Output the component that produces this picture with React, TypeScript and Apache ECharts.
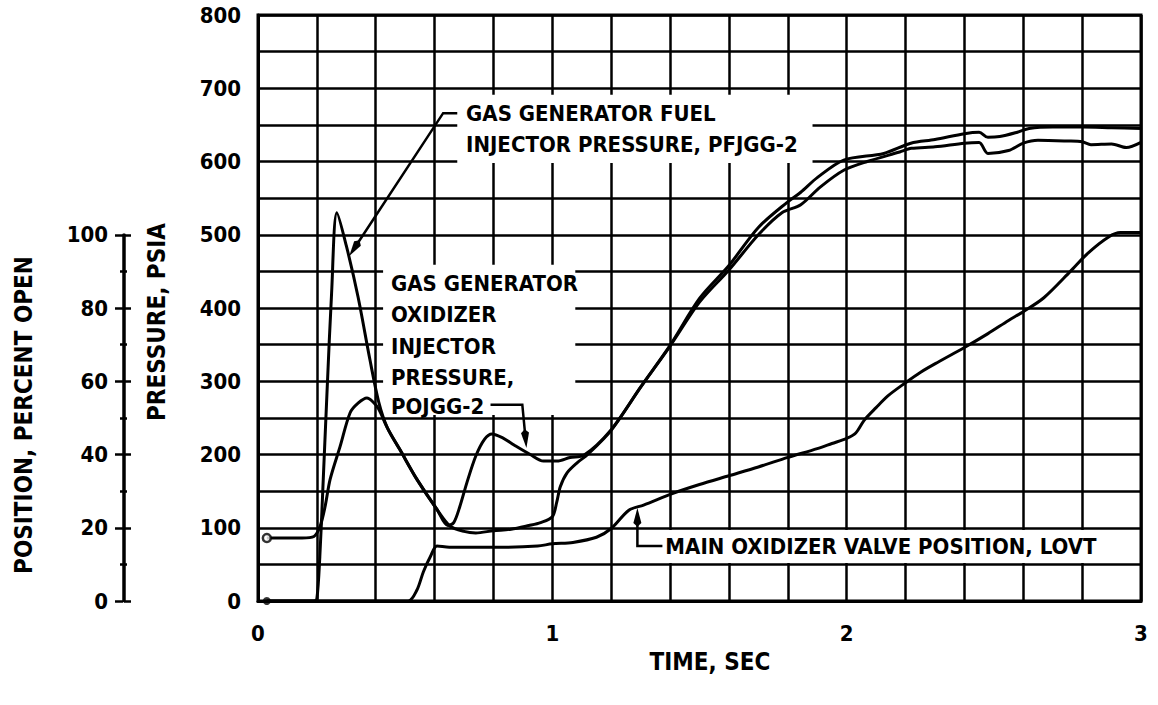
import React, { useEffect, useRef } from "react";
import * as echarts from "echarts";

const FONT = "'DejaVu Sans Condensed', 'DejaVu Sans', sans-serif";

// Gas generator fuel injector pressure, PFJGG-2 (psia)
const fuelTime = [0.03, 0.19, 0.2, 0.21, 0.22, 0.235, 0.25, 0.268, 0.3, 0.34, 0.38, 0.41, 0.44, 0.483, 0.54, 0.608, 0.653, 0.7, 0.74, 0.8, 0.86, 0.92, 0.96, 1.0, 1.015, 1.027, 1.05, 1.085, 1.12, 1.2, 1.3, 1.4, 1.5, 1.6, 1.7, 1.78, 1.844, 1.91, 1.99, 2.07, 2.18, 2.22, 2.3, 2.4, 2.45, 2.48, 2.55, 2.6, 2.65, 2.75, 2.8, 2.83, 2.9, 2.95, 3.0];
const fuelPressure = [0, 0, 3, 60, 150, 290, 420, 530, 485, 415, 330, 272, 236, 206, 166, 125, 102, 95, 93, 96, 98, 103, 107, 115, 135, 156, 175, 189, 200, 233, 292, 348, 408, 452, 500, 530, 541, 565, 588, 600, 613, 618, 620, 625, 626, 611, 615, 625, 629, 628, 627, 623, 624, 619, 626];

// Gas generator oxidizer injector pressure, POJGG-2 (psia)
const oxTime = [0.03, 0.15, 0.19, 0.211, 0.228, 0.245, 0.279, 0.313, 0.34, 0.37, 0.39, 0.41, 0.44, 0.483, 0.54, 0.608, 0.645, 0.665, 0.685, 0.71, 0.74, 0.77, 0.795, 0.83, 0.87, 0.925, 0.97, 1.016, 1.06, 1.107, 1.2, 1.3, 1.4, 1.5, 1.6, 1.7, 1.8, 1.844, 1.9, 1.99, 2.126, 2.218, 2.3, 2.4, 2.45, 2.48, 2.52, 2.58, 2.62, 2.7, 2.8, 2.9, 3.0];
const oxPressure = [86, 86, 88, 102, 129, 166, 211, 257, 270, 277, 272, 262, 236, 206, 166, 125, 103, 107, 128, 162, 198, 221, 228, 223, 213, 200, 191, 191, 196, 199, 234, 292, 349, 413, 458, 510, 545, 558, 578, 602, 611, 625, 630, 638, 640, 633, 634, 640, 645, 647, 647, 646, 645];

// Main oxidizer valve position, LOVT (percent open)
const valveTime = [0.03, 0.51, 0.54, 0.562, 0.585, 0.608, 0.65, 0.75, 0.85, 0.95, 1.0, 1.07, 1.15, 1.2, 1.26, 1.31, 1.41, 1.5, 1.6, 1.7, 1.8, 1.9, 1.95, 2.0, 2.03, 2.06, 2.1, 2.14, 2.2, 2.25, 2.31, 2.4, 2.48, 2.55, 2.6, 2.67, 2.76, 2.82, 2.89, 2.93, 3.0];
const valvePercent = [0, 0, 3, 8, 12, 15, 14.7, 14.7, 14.7, 15, 15.6, 16, 17.4, 19.8, 24.8, 26.2, 29.4, 31.8, 34.2, 36.6, 39.2, 41.6, 43, 44.4, 45.8, 49.4, 52.8, 56, 59.6, 62.4, 65.2, 69.2, 73, 76.6, 79, 82.8, 90, 95, 99.4, 100.6, 100.6];

// Axis ranges / ticks
const timeRange = [0, 3];
const pressureRange = [0, 800];
const positionRange = [0, 100];

// Annotation texts
const fuelLabelLines = ["GAS GENERATOR FUEL", "INJECTOR PRESSURE, PFJGG-2"];
const oxLabelLines = ["GAS GENERATOR", "OXIDIZER", "INJECTOR", "PRESSURE,", "POJGG-2"];
const valveLabel = "MAIN OXIDIZER VALVE POSITION, LOVT";

// Annotation anchors in data coordinates (time, psia)
const fuelBox = [0.677, 691, 1.884, 598];
const fuelTextAt = [0.707, [666, 623]];
const fuelLeader = [[0.677, 666], [0.629, 666], [0.31, 471]];
const oxBox = [0.425, 459, 1.078, 254];
const oxTextAt = [0.452, [434, 391, 347, 305, 265]];
const oxLeader = [[0.79, 268], [0.898, 268], [0.912, 209]];
const valveBox = [1.35, 97, 2.9, 52];
const valveTextAt = [1.384, 75];
const valveLeader = [[1.374, 75], [1.289, 75], [1.289, 127]];

export default function App() {
  const ref = useRef<HTMLDivElement>(null);
  useEffect(() => {
    document.body.style.margin = "0";
    const chart = echarts.init(ref.current!, null, { renderer: "svg" });
    const black = "#000";
    const tickFont = { color: black, fontFamily: FONT, fontWeight: "bold" as const, fontSize: 22 };
    const curve = { symbol: "none", smooth: 0.3, lineStyle: { color: black, width: 3 }, z: 3 };
    chart.setOption({
      animation: false,
      backgroundColor: "#fff",
      grid: [
        { left: 258, right: 17, top: 15, bottom: 104, show: true, borderColor: black, borderWidth: 3, backgroundColor: "#fff" },
        { left: 123, width: 1, top: 234.75, bottom: 104 },
      ],
      xAxis: [
        {
          type: "value", gridIndex: 0, min: timeRange[0], max: timeRange[1], interval: 1,
          axisLine: { show: true, onZero: false, lineStyle: { color: black, width: 3 } },
          axisTick: { show: false },
          axisLabel: { ...tickFont, margin: 21 },
          splitLine: { show: true, lineStyle: { color: black, width: 2.5 } },
          minorTick: { show: false, splitNumber: 5 },
          minorSplitLine: { show: true, lineStyle: { color: black, width: 2.5 } },
        },
        { type: "value", gridIndex: 1, min: 0, max: 1, show: false },
      ],
      yAxis: [
        {
          type: "value", gridIndex: 0, min: pressureRange[0], max: pressureRange[1], interval: 100,
          axisLine: { show: true, lineStyle: { color: black, width: 3 } },
          axisTick: { show: false },
          axisLabel: { ...tickFont, margin: 17 },
          splitLine: { show: true, lineStyle: { color: black, width: 2.5 } },
          minorTick: { show: false, splitNumber: 2 },
          minorSplitLine: { show: true, lineStyle: { color: black, width: 2.5 } },
        },
        { type: "value", gridIndex: 0, min: 0, max: 160, show: false },
        {
          type: "value", gridIndex: 1, position: "left", min: positionRange[0], max: positionRange[1], interval: 20,
          axisLine: { show: true, lineStyle: { color: black, width: 2.5 } },
          axisTick: { show: true, length: 8, lineStyle: { color: black, width: 2.5 } },
          minorTick: { show: true, splitNumber: 2, length: 3, lineStyle: { color: black, width: 2.5 } },
          axisLabel: { ...tickFont, margin: 15 },
          splitLine: { show: false },
        },
        {
          type: "value", gridIndex: 1, position: "right", min: positionRange[0], max: positionRange[1], interval: 20,
          axisLine: { show: true, lineStyle: { color: black, width: 2.5 } },
          axisTick: { show: true, length: 7, lineStyle: { color: black, width: 2.5 } },
          minorTick: { show: true, splitNumber: 2, length: 3, lineStyle: { color: black, width: 2.5 } },
          axisLabel: { show: false },
          splitLine: { show: false },
        },
      ],
      series: [
        { type: "line", name: "PFJGG-2", xAxisIndex: 0, yAxisIndex: 0, data: fuelTime.map((t, i) => [t, fuelPressure[i]]), ...curve },
        { type: "line", name: "POJGG-2", xAxisIndex: 0, yAxisIndex: 0, data: oxTime.map((t, i) => [t, oxPressure[i]]), ...curve },
        { type: "line", name: "LOVT", xAxisIndex: 0, yAxisIndex: 1, data: valveTime.map((t, i) => [t, valvePercent[i]]), ...curve },
        {
          type: "scatter", xAxisIndex: 0, yAxisIndex: 0, z: 4, symbolSize: 8,
          data: [
            { value: [oxTime[0], oxPressure[0]], itemStyle: { color: "#fff", borderColor: black, borderWidth: 2.5 } },
            { value: [fuelTime[0], fuelPressure[0]], itemStyle: { color: black } },
          ],
        },
      ],
    });

    const px = (t: number, p: number) => chart.convertToPixel({ xAxisIndex: 0, yAxisIndex: 0 }, [t, p]) as number[];
    const annFont = `bold 22px ${FONT}`;
    const titleFont = `bold 24px ${FONT}`;
    const box = (b: number[]) => {
      const a = px(b[0], b[1]);
      const c = px(b[2], b[3]);
      return { type: "rect", z: 1, shape: { x: a[0], y: a[1], width: c[0] - a[0], height: c[1] - a[1] }, style: { fill: "#fff" } };
    };
    const text = (s: string, x: number, y: number, font = annFont) => ({
      type: "text", z: 5, x, y,
      style: { text: s, fill: black, font, textAlign: "left", textVerticalAlign: "middle" },
    });
    const leader = (pts: number[][]) => {
      const p = pts.map(([t, v]) => px(t, v));
      const tip = p[p.length - 1];
      const from = p[p.length - 2];
      const dx = tip[0] - from[0], dy = tip[1] - from[1];
      const L = Math.hypot(dx, dy);
      const ux = dx / L, uy = dy / L;
      const len = 15, w = 4;
      const bx = tip[0] - ux * len, by = tip[1] - uy * len;
      return [
        { type: "polyline", z: 5, shape: { points: p.slice(0, -1).concat([[bx, by]]) }, style: { stroke: black, lineWidth: 2.5, fill: "none" } },
        { type: "polygon", z: 5, shape: { points: [tip, [bx - uy * w, by + ux * w], [tip[0] - ux * len * 1.25, tip[1] - uy * len * 1.25], [bx + uy * w, by - ux * w]] }, style: { fill: black } },
      ];
    };

    const fuelX = px(fuelTextAt[0] as number, 0)[0];
    const oxX = px(oxTextAt[0] as number, 0)[0];
    const vPos = px(valveTextAt[0], valveTextAt[1]);

    chart.setOption({
      graphic: [
        box(fuelBox),
        box(oxBox),
        box(valveBox),
        ...(fuelTextAt[1] as number[]).map((p, i) => text(fuelLabelLines[i], fuelX, px(0, p)[1])),
        ...(oxTextAt[1] as number[]).map((p, i) => text(oxLabelLines[i], oxX, px(0, p)[1])),
        text(valveLabel, vPos[0], vPos[1]),
        ...leader(fuelLeader),
        ...leader(oxLeader),
        ...leader(valveLeader),
        {
          type: "text", z: 5, x: 24, y: 415, rotation: Math.PI / 2,
          style: { text: "POSITION, PERCENT OPEN", fill: black, font: titleFont, textAlign: "center", textVerticalAlign: "middle" },
        },
        {
          type: "text", z: 5, x: 157, y: 322, rotation: Math.PI / 2,
          style: { text: "PRESSURE, PSIA", fill: black, font: titleFont, textAlign: "center", textVerticalAlign: "middle" },
        },
        {
          type: "text", z: 5, x: 710, y: 662,
          style: { text: "TIME, SEC", fill: black, font: titleFont, textAlign: "center", textVerticalAlign: "middle" },
        },
      ],
    });
    return () => chart.dispose();
  }, []);
  return <div ref={ref} style={{ width: 1158, height: 705 }} />;
}
